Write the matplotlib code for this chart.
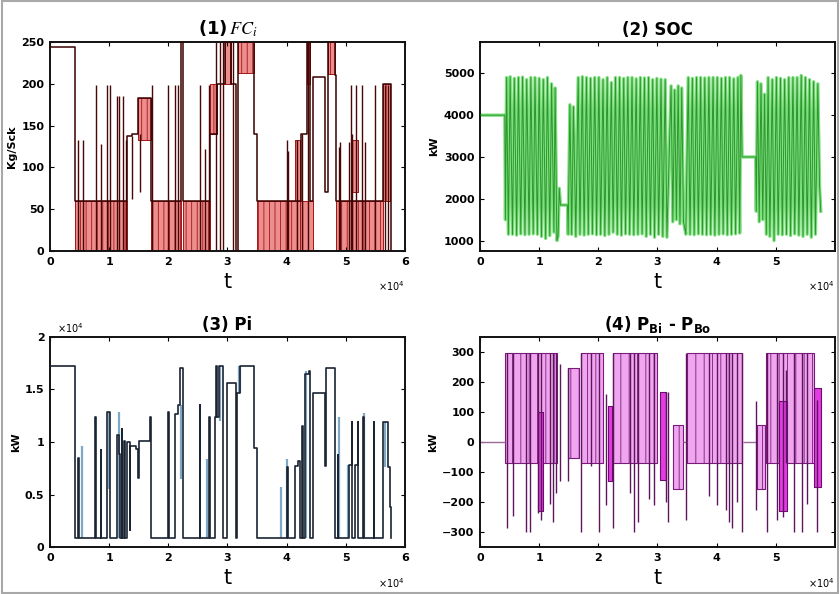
import matplotlib
matplotlib.use('Agg')
import matplotlib.pyplot as plt
from matplotlib.patches import Rectangle

plt.rcParams['hatch.linewidth'] = 0.6

# time values are in units of 1e4 s (axis shows "x10^4")

# ---- (1) FC_i, Kg/Sck ----
fc_t = [0, 0.43, 1.30, 1.38, 1.49, 1.70, 2.21, 2.25, 2.70, 2.83, 2.96, 3.06, 3.15, 3.17,
        3.44, 3.50, 4.25, 4.34, 4.39, 4.45, 4.65, 4.70, 4.82, 4.84, 5.63, 5.77]
fc_v = [244, 60, 137, 140, 183, 60, 250, 60, 140, 200, 250, 200, 0, 250,
        140, 60, 140, 250, 60, 208, 70, 250, 210, 60, 200, 0]
fc_band_t0 = [0.43, 1.49, 1.70, 2.25, 2.70, 2.96, 3.17, 3.50, 4.14, 4.22, 4.34, 4.70, 4.84, 5.08, 5.63]
fc_band_t1 = [1.30, 1.70, 2.21, 2.70, 2.83, 3.06, 3.44, 4.25, 4.22, 4.45, 4.39, 4.82, 5.63, 5.20, 5.74]
fc_band_lo = [0, 133, 0, 0, 140, 200, 213, 0, 60, 0, 200, 212, 0, 70, 60]
fc_band_hi = [60, 183, 60, 60, 200, 250, 250, 60, 133, 60, 250, 250, 60, 133, 200]
fc_spk_t = [0.48, 0.55, 0.77, 0.86, 0.97, 1.01, 1.14, 1.16, 1.23, 1.28, 1.38, 1.52,
            1.72, 2.00, 2.12, 2.16, 2.53, 2.62, 2.69, 2.80, 2.88, 2.92, 3.10,
            4.00, 4.03, 4.18, 4.26, 4.36, 4.89, 4.90, 5.05, 5.08, 5.11, 5.18, 5.28,
            5.32, 5.49, 5.66, 5.72]
fc_spk_lo = [0, 0, 0, 0, 0, 0, 0, 0, 0, 0, 62, 70,
             0, 0, 0, 0, 0, 0, 0, 0, 0, 0, 0,
             0, 0, 0, 0, 0, 0, 0, 0, 0, 0, 0, 0,
             0, 0, 0, 0]
fc_spk_hi = [133, 133, 198, 128, 198, 198, 185, 185, 185, 133, 138, 140,
             198, 198, 198, 198, 198, 122, 198, 250, 250, 250, 250,
             133, 120, 133, 140, 250, 125, 130, 130, 198, 140, 198, 198,
             130, 198, 198, 198]

# ---- (2) SOC, kW ----
soc_t = [0, 0.42, 0.43, 0.45, 0.48, 0.51, 0.55, 0.58, 0.62, 0.65, 0.69, 0.72, 0.76, 0.79,
         0.83, 0.86, 0.90, 0.93, 0.97, 1.00, 1.04, 1.07, 1.11, 1.14, 1.18, 1.21, 1.25, 1.27, 1.30,
         1.32, 1.34, 1.36, 1.48,
         1.49, 1.52, 1.55, 1.58, 1.62, 1.66, 1.69, 1.73, 1.76, 1.80, 1.83, 1.87, 1.90, 1.94, 1.97,
         2.01, 2.04, 2.08, 2.11, 2.15, 2.18, 2.22, 2.25, 2.29, 2.32, 2.36, 2.39, 2.43, 2.46, 2.50,
         2.53, 2.57, 2.60, 2.64, 2.67, 2.71, 2.74, 2.78, 2.81, 2.85, 2.88, 2.92, 2.95, 2.99, 3.02,
         3.06, 3.09, 3.13, 3.16,
         3.23, 3.26, 3.29, 3.32, 3.35, 3.38, 3.41, 3.44,
         3.48, 3.52, 3.55, 3.59, 3.62, 3.66, 3.69, 3.73, 3.76, 3.80, 3.83, 3.87, 3.90, 3.94, 3.97,
         4.01, 4.04, 4.08, 4.11, 4.15, 4.18, 4.22, 4.25, 4.29, 4.32, 4.36, 4.39, 4.41, 4.43, 4.66,
         4.67, 4.69, 4.72, 4.75, 4.78, 4.81, 4.84, 4.87, 4.90, 4.94, 4.97, 5.01, 5.04, 5.08, 5.11,
         5.15, 5.18, 5.22, 5.25, 5.29, 5.32, 5.36, 5.39, 5.43, 5.46, 5.50, 5.53, 5.57, 5.60, 5.64,
         5.67, 5.71, 5.74, 5.76]
soc_v = [4000, 4000, 1500, 4900, 1150, 4920, 1150, 4880, 1130, 4900, 1160, 4910, 1140, 4850,
         1150, 4900, 1160, 4900, 1150, 4880, 1100, 4850, 1050, 4900, 1120, 4750, 1200, 4650, 1000,
         1100, 2250, 1850, 1850,
         1150, 4250, 1150, 4200, 1100, 4900, 1150, 4920, 1130, 4900, 1150, 4880, 1160, 4900, 1140,
         4900, 1150, 4850, 1120, 4900, 1150, 4780, 1200, 4900, 1150, 4900, 1130, 4880, 1160, 4900,
         1150, 4900, 1140, 4870, 1150, 4900, 1160, 4890, 1100, 4900, 1150, 4850, 1080, 4880, 1150,
         4860, 1100, 4850, 1080,
         4700, 1450, 4600, 1500, 4700, 1400, 4650, 1450,
         1150, 4900, 1150, 4880, 1140, 4900, 1160, 4900, 1150, 4890, 1140, 4900, 1150, 4900, 1130,
         4900, 1150, 4880, 1160, 4900, 1140, 4900, 1150, 4870, 1160, 4900, 1180, 4950, 3000, 3000,
         1700, 4800, 1450, 4750, 1500, 4500, 1150, 4900, 1100, 4850, 1000, 4900, 1150, 4880, 1140,
         4850, 1150, 4900, 1120, 4900, 1160, 4900, 1130, 4950, 1100, 4900, 1150, 4850, 1080, 4800,
         1150, 4750, 2300, 1700]

# ---- (3) Pi, kW ----
pi_t = [0, 0.43, 0.48, 0.49, 0.76, 0.77, 0.86, 0.87, 0.97, 1.01, 1.02, 1.13, 1.16, 1.18,
        1.21, 1.22, 1.25, 1.27, 1.30, 1.35, 1.36, 1.46, 1.49, 1.50, 1.69, 1.71, 2.00, 2.01,
        2.11, 2.16, 2.20, 2.24, 2.53, 2.54, 2.69, 2.70, 2.79, 2.81, 2.83, 2.86, 2.92, 2.99,
        3.15, 3.16, 3.22, 3.44, 3.50, 4.00, 4.03, 4.14, 4.19, 4.23, 4.26, 4.28, 4.31, 4.38,
        4.40, 4.45, 4.64, 4.67, 4.82, 4.86, 4.87, 5.05, 5.10, 5.11, 5.15, 5.20, 5.21, 5.29,
        5.30, 5.47, 5.48, 5.63, 5.72, 5.75, 5.77]
pi_v = [17200, 900, 8500, 900, 12400, 900, 9200, 900, 12900, 11200, 900, 10700, 8900, 900,
        11200, 900, 10100, 900, 10000, 1600, 9600, 9300, 6600, 10100, 12400, 900, 12900, 900,
        12700, 13500, 17000, 900, 13500, 900, 12400, 900, 12400, 17200, 12400, 17200, 900, 15600,
        900, 14700, 17200, 9400, 900, 7600, 900, 7700, 8200, 900, 11500, 900, 16500, 16800,
        900, 14700, 7700, 17000, 900, 8800, 900, 7800, 11900, 900, 7800, 11900, 900, 12400,
        900, 11900, 900, 11900, 7600, 3800, 900]
pi_lt_t = [0.54, 0.99, 1.16, 2.21, 2.66, 2.88, 3.19, 3.21, 3.90, 4.01, 4.33, 4.88, 5.04, 5.31, 5.67]
pi_lt_lo = [900, 5500, 900, 6500, 900, 12000, 14700, 14700, 900, 900, 900, 900, 900, 900, 7600]
pi_lt_hi = [9600, 12900, 12900, 13500, 8400, 17200, 17200, 17200, 5700, 8400, 16800, 12400, 7800, 12800, 11900]

# ---- (4) PBi - PBo, kW ----
pb_zero_t0 = [0, 3.43, 4.44]
pb_zero_t1 = [0.42, 3.50, 4.66]
pb_band_t0 = [0.42, 1.48, 1.71, 2.25, 3.26, 3.50, 4.69, 4.83]
pb_band_t1 = [1.30, 1.68, 2.08, 3.00, 3.43, 4.43, 4.81, 5.64]
pb_band_lo = [-70, -52, -70, -70, -155, -70, -155, -70]
pb_band_hi = [295, 248, 295, 295, 55, 295, 55, 295]
pb_core_t0 = [0.98, 2.16, 3.04, 5.05, 5.64]
pb_core_t1 = [1.06, 2.23, 3.15, 5.19, 5.77]
pb_core_lo = [-230, -130, -125, -230, -150]
pb_core_hi = [100, 120, 165, 135, 180]
pb_spk_t = [0.45, 0.56, 0.77, 0.85, 0.98, 1.03, 1.18, 1.24, 1.29, 1.35, 1.49, 1.70, 1.88,
            2.01, 2.13, 2.25, 2.53, 2.61, 2.67, 2.86, 2.94, 3.14, 3.17, 3.49, 3.87, 4.00,
            4.15, 4.21, 4.26, 4.34, 4.43, 4.66, 4.85, 5.02, 5.13, 5.18, 5.30, 5.44, 5.53, 5.70]
pb_spk_hi = [295, 295, 295, 295, 295, 295, 295, 295, 295, 260, 248, 295, 295,
             295, 160, 295, 295, 295, 295, 295, 295, 165, 165, 295, 295, 295,
             295, 295, 295, 295, 295, 135, 295, 295, 295, 240, 295, 295, 295, 140]
pb_spk_lo = [-285, -245, -300, -300, -235, -260, -205, -265, -170, -130, -130, -300, -80,
             -300, -210, -285, -170, -300, -265, -190, -210, -200, -265, -260, -180, -210,
             -225, -265, -285, -200, -300, -225, -300, -260, -250, -70, -300, -300, -205, -300]

fig = plt.figure(figsize=(8.4, 5.94), dpi=100)
fig.patches.append(Rectangle((0.002, 0.002), 0.996, 0.996, transform=fig.transFigure,
                             fill=False, ec='#a8a8a8', lw=1.5))

ax1 = fig.add_axes([0.0595, 0.5774, 0.4226, 0.3519])
ax2 = fig.add_axes([0.5714, 0.5774, 0.4226, 0.3519])
ax3 = fig.add_axes([0.0595, 0.0791, 0.4226, 0.3536])
ax4 = fig.add_axes([0.5714, 0.0791, 0.4226, 0.3536])


def style(ax, xticks, ylab):
    ax.set_xlim(0, 6)
    ax.set_xticks(xticks)
    ax.set_xticklabels([str(x) for x in xticks])
    ax.tick_params(direction='in', top=True, right=True, length=3, width=0.8,
                   labelsize=8, pad=4)
    for lab in ax.get_xticklabels() + ax.get_yticklabels():
        lab.set_fontweight('bold')
    for s in ax.spines.values():
        s.set_linewidth(1.4)
        s.set_color('#111111')
    ax.set_xlabel('t', fontsize=15, labelpad=4, family='DejaVu Sans')
    ax.set_ylabel(ylab, fontsize=8, fontweight='bold', labelpad=3)
    ax.text(1.0, -0.17, r'$\times10^4$', transform=ax.transAxes, ha='right', va='center',
            fontsize=7)


# (1) FC_i
for t0, t1, lo, hi in zip(fc_band_t0, fc_band_t1, fc_band_lo, fc_band_hi):
    ax1.fill_between([t0, t1], lo, hi, facecolor='#ec8e8e', edgecolor='#a51515',
                     hatch='|||', lw=0.7, zorder=1)
ax1.vlines(fc_spk_t, fc_spk_lo, fc_spk_hi, color='#4a0505', lw=1.0, zorder=2)
ax1.step(fc_t, fc_v, where='post', color='#3a0000', lw=1.1, zorder=3)
ax1.set_ylim(0, 250)
ax1.set_yticks([0, 50, 100, 150, 200, 250])
style(ax1, [0, 1, 2, 3, 4, 5, 6], 'Kg/Sck')
ax1.set_title(r'(1)$\,FC_i$', fontsize=13, fontweight='bold', pad=5, math_fontfamily='stix')

# (2) SOC
ax2.plot(soc_t, soc_v, color='#7ee07e', lw=2.4, zorder=2)
ax2.plot(soc_t, soc_v, color='#1f8a1f', lw=0.7, alpha=0.85, zorder=3)
ax2.set_ylim(750, 5750)
ax2.set_yticks([1000, 2000, 3000, 4000, 5000])
style(ax2, [0, 1, 2, 3, 4, 5], 'kW')
ax2.set_title('(2) SOC', fontsize=12, fontweight='bold', pad=5)

# (3) Pi
ax3.vlines(pi_lt_t, pi_lt_lo, pi_lt_hi, color='#7fa7c6', lw=1.6, zorder=2)
ax3.step(pi_t, pi_v, where='post', color='#1b2433', lw=1.2, zorder=3)
ax3.set_ylim(0, 20000)
ax3.set_yticks([0, 5000, 10000, 15000, 20000])
ax3.set_yticklabels(['0', '0.5', '1', '1.5', '2'])
style(ax3, [0, 1, 2, 3, 4, 5, 6], 'kW')
ax3.text(0.02, 1.01, r'$\times10^4$', transform=ax3.transAxes, ha='left', va='bottom',
         fontsize=7)
ax3.set_title('(3) Pi', fontsize=12, fontweight='bold', pad=5)

# (4) PBi - PBo
ax4.hlines([0] * len(pb_zero_t0), pb_zero_t0, pb_zero_t1, color='#9a6a9a', lw=1.0, zorder=2)
for t0, t1, lo, hi in zip(pb_band_t0, pb_band_t1, pb_band_lo, pb_band_hi):
    ax4.fill_between([t0, t1], lo, hi, facecolor='#efa6ef', edgecolor='#7a1a7a',
                     hatch='||', lw=0.8, zorder=1)
for t0, t1, lo, hi in zip(pb_core_t0, pb_core_t1, pb_core_lo, pb_core_hi):
    ax4.fill_between([t0, t1], lo, hi, facecolor='#e23ce2', edgecolor='#6a106a',
                     lw=0.8, zorder=2)
ax4.vlines(pb_spk_t, pb_spk_lo, pb_spk_hi, color='#5e155e', lw=1.0, zorder=3)
ax4.set_ylim(-350, 350)
ax4.set_yticks([-300, -200, -100, 0, 100, 200, 300])
style(ax4, [0, 1, 2, 3, 4, 5], 'kW')
ax4.set_title(r'(4) P$_{\mathbf{Bi}}$ - P$_{\mathbf{Bo}}$', fontsize=12, fontweight='bold', pad=5)

fig.savefig('out.png', dpi=100)
